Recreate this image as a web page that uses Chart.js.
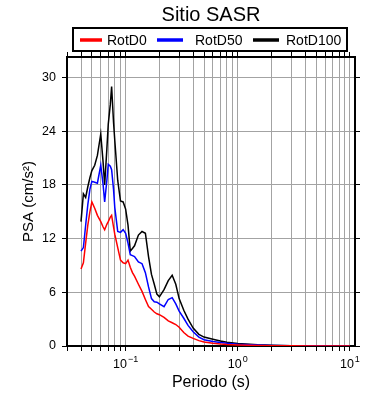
<!DOCTYPE html>
<html>
<head>
<meta charset="utf-8">
<script src="https://cdn.jsdelivr.net/npm/chart.js@4.4.3/dist/chart.umd.min.js"></script>
<style>
    html, body { margin: 0; padding: 0; background: #fff; }
    #wrap { width: 390px; height: 400px; }
</style>
</head>
<body>
<div id="wrap"><canvas id="psaChart" width="390" height="400"></canvas></div>
<script>
    // Periods (s) and PSA values (cm/s^2)
    const periods = [
        0.040, 0.042, 0.044, 0.046, 0.048, 0.050, 0.053, 0.056, 0.060, 0.063,
        0.065, 0.068, 0.070, 0.073, 0.075, 0.078, 0.080, 0.085, 0.090, 0.095,
        0.100, 0.105, 0.110, 0.115, 0.120, 0.130, 0.140, 0.150, 0.160, 0.170,
        0.180, 0.190, 0.200, 0.220, 0.240, 0.260, 0.280, 0.300, 0.330, 0.360,
        0.400, 0.450, 0.500, 0.600, 0.700, 0.800, 1.0, 1.5, 2, 3,
        5, 7, 10
    ];
    const rotD0 = [
        8.6, 9.3, 11.5, 13.5, 15.0, 16.1, 15.4, 14.6, 13.9, 13.3,
        13.0, 13.6, 13.9, 14.4, 14.6, 13.3, 12.5, 11.0, 9.6, 9.3,
        9.2, 9.6, 8.8, 8.2, 7.8, 6.9, 6.1, 5.2, 4.4, 4.1,
        3.8, 3.6, 3.5, 3.2, 2.8, 2.6, 2.4, 2.1, 1.5, 1.1,
        0.85, 0.6, 0.45, 0.3, 0.22, 0.17, 0.12, 0.06, 0.04, 0.02,
        0.01, 0.005, 0.005
    ];
    const rotD50 = [
        10.6, 11.0, 13.5, 15.8, 17.5, 18.4, 18.3, 18.2, 20.2, 18.0,
        16.1, 18.5, 20.3, 20.1, 19.7, 17.5, 15.5, 12.8, 12.7, 13.0,
        12.6, 11.5, 10.2, 10.1, 10.0, 9.4, 9.2, 8.2, 6.6, 5.3,
        4.95, 4.9, 4.7, 4.4, 5.2, 5.4, 4.7, 3.9, 3.1, 2.3,
        1.6, 1.0, 0.7, 0.5, 0.38, 0.3, 0.2, 0.1, 0.06, 0.03,
        0.015, 0.01, 0.01
    ];
    const rotD100 = [
        13.9, 17.0, 16.6, 17.8, 18.8, 19.6, 20.2, 21.3, 23.7, 20.5,
        18.0, 22.0, 24.8, 27.0, 29.0, 25.0, 23.0, 18.5, 16.2, 16.1,
        15.3, 13.5, 10.6, 10.9, 11.2, 12.4, 12.8, 12.6, 10.0, 8.0,
        6.9, 5.8, 5.5, 6.3, 7.3, 7.9, 6.9, 5.3, 4.0, 3.0,
        2.0, 1.3, 1.0, 0.75, 0.55, 0.42, 0.28, 0.13, 0.08, 0.04,
        0.02, 0.01, 0.01
    ];

    const seriesLabels = ['RotD0', 'RotD50', 'RotD100'];
    const seriesColors = ['#ff0000', '#0000ff', '#000000'];

    const xTicks = [
        0.03, 0.04, 0.05, 0.06, 0.07, 0.08, 0.09,
        0.1, 0.2, 0.3, 0.4, 0.5, 0.6, 0.7, 0.8, 0.9,
        1, 2, 3, 4, 5, 6, 7, 8, 9, 10
    ];
    // labelled decades: base and exponent
    const xDecades = [0.1, 1, 10];
    const xExponents = ['\u22121', '0', '1'];
    const yTicks = [0, 6, 12, 18, 24, 30];

    const FONT = 'Liberation Sans, Arial, Helvetica, sans-serif';
    const GRID = '#a3a3a3';

    function toPoints(values) {
        return values.map((v, i) => ({ x: periods[i], y: v }));
    }

    function setTicks(values) {
        return (scale) => {
            scale.ticks = values.map((v) => ({ value: v }));
        };
    }

    // title and boxed legend above the frame
    const headerPlugin = {
        id: 'header',
        afterDraw(chart) {
            const ctx = chart.ctx;
            ctx.save();
            ctx.fillStyle = '#000';
            ctx.font = '20px ' + FONT;
            ctx.textAlign = 'center';
            ctx.textBaseline = 'alphabetic';
            ctx.fillText('Sitio SASR', 211, 21);

            ctx.strokeStyle = '#000';
            ctx.lineWidth = 2;
            ctx.strokeRect(73, 28, 274, 23);

            const items = [
                { x0: 80, x1: 102, tx: 107 },
                { x0: 157, x1: 183, tx: 195 },
                { x0: 253, x1: 279, tx: 286 },
            ];
            ctx.font = '14px ' + FONT;
            ctx.textAlign = 'left';
            items.forEach((it, i) => {
                ctx.strokeStyle = seriesColors[i];
                ctx.lineWidth = 3.5;
                ctx.beginPath();
                ctx.moveTo(it.x0, 40);
                ctx.lineTo(it.x1, 40);
                ctx.stroke();
                ctx.fillStyle = '#000';
                ctx.fillText(seriesLabels[i], it.tx, 44.5);
            });
            ctx.restore();
        },
    };

    // decade labels 10^n with a real raised exponent
    const decadeLabelPlugin = {
        id: 'decadeLabels',
        afterDraw(chart) {
            const ctx = chart.ctx;
            const xs = chart.scales.x;
            ctx.save();
            ctx.fillStyle = '#000';
            ctx.textBaseline = 'alphabetic';
            ctx.textAlign = 'left';
            xDecades.forEach((d, i) => {
                const px = xs.getPixelForValue(d);
                ctx.font = '12.5px ' + FONT;
                const wBase = ctx.measureText('10').width;
                ctx.font = '9px ' + FONT;
                const wExp = ctx.measureText(xExponents[i]).width;
                const start = px - (wBase + 1 + wExp) / 2;
                ctx.font = '12.5px ' + FONT;
                ctx.fillText('10', start, 368);
                ctx.font = '9px ' + FONT;
                ctx.fillText(xExponents[i], start + wBase + 1, 362);
            });
            ctx.restore();
        },
    };

    const bgPlugin = {
        id: 'bg',
        beforeDraw(chart) {
            const ctx = chart.ctx;
            ctx.save();
            ctx.fillStyle = '#fff';
            ctx.fillRect(0, 0, chart.width, chart.height);
            ctx.restore();
        },
    };

    const xMin = 0.03;
    const xMax = 11.1;
    const yMax = 32.3;

    const ctx = document.getElementById('psaChart').getContext('2d');
    new Chart(ctx, {
        type: 'line',
        data: {
            datasets: [rotD0, rotD50, rotD100].map((vals, i) => ({
                label: seriesLabels[i],
                data: toPoints(vals),
                borderColor: seriesColors[i],
                backgroundColor: seriesColors[i],
                borderWidth: 1.5,
                pointRadius: 0,
                tension: 0,
                fill: false,
            })),
        },
        options: {
            responsive: false,
            animation: false,
            devicePixelRatio: 1,
            layout: { padding: 0 },
            plugins: {
                legend: { display: false },
                title: { display: false },
                tooltip: { enabled: false },
            },
            scales: {
                x: {
                    type: 'logarithmic',
                    position: 'bottom',
                    min: xMin,
                    max: xMax,
                    afterBuildTicks: setTicks(xTicks),
                    afterFit: (s) => { s.height = 54; },
                    border: { display: true, color: '#000', width: 2 },
                    grid: { color: GRID, lineWidth: 1, tickColor: '#000', tickLength: 5, drawTicks: true },
                    ticks: {
                        autoSkip: false,
                        maxRotation: 0,
                        callback: () => '',
                    },
                    title: {
                        display: true,
                        text: 'Periodo (s)',
                        color: '#000',
                        font: { family: FONT, size: 16 },
                        padding: { top: 0, bottom: 8 },
                    },
                },
                x2: {
                    type: 'logarithmic',
                    position: 'top',
                    min: xMin,
                    max: xMax,
                    afterBuildTicks: setTicks(xTicks),
                    afterFit: (s) => { s.height = 57; },
                    border: { display: true, color: '#000', width: 2 },
                    grid: { drawOnChartArea: false, tickColor: '#000', tickLength: 5 },
                    ticks: { display: false },
                },
                y: {
                    type: 'linear',
                    position: 'left',
                    min: 0,
                    max: yMax,
                    afterBuildTicks: setTicks(yTicks),
                    afterFit: (s) => { s.width = 67; },
                    border: { display: true, color: '#000', width: 2 },
                    grid: { color: GRID, lineWidth: 1, tickColor: '#000', tickLength: 5 },
                    ticks: {
                        padding: 6,
                        color: '#000',
                        font: { family: FONT, size: 12.5 },
                        callback: (v) => String(v),
                    },
                    title: {
                        display: true,
                        text: 'PSA (cm/s\u00B2)',
                        color: '#000',
                        font: { family: FONT, size: 15 },
                        padding: { top: 20, bottom: 0 },
                    },
                },
                y2: {
                    type: 'linear',
                    position: 'right',
                    min: 0,
                    max: yMax,
                    afterBuildTicks: setTicks(yTicks),
                    afterFit: (s) => { s.width = 35; },
                    border: { display: true, color: '#000', width: 2 },
                    grid: { drawOnChartArea: false, tickColor: '#000', tickLength: 5 },
                    ticks: { display: false },
                },
            },
        },
        plugins: [bgPlugin, headerPlugin, decadeLabelPlugin],
    });
</script>
</body>
</html>
